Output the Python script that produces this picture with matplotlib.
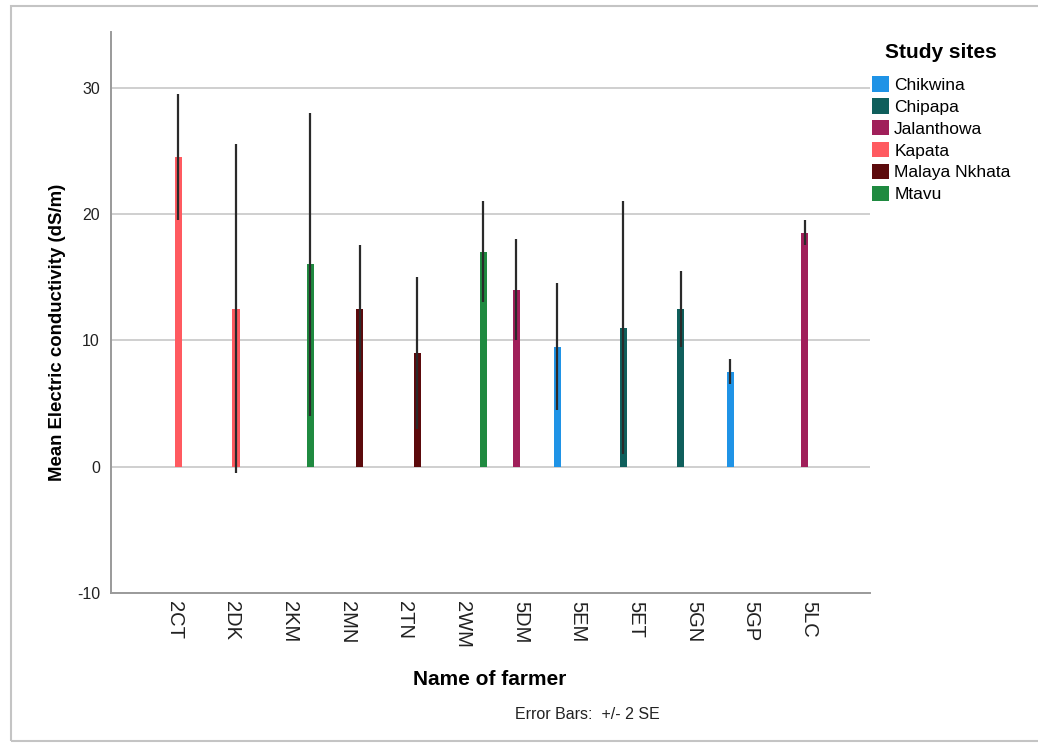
import matplotlib.pyplot as plt
import matplotlib.transforms as mtransforms
from matplotlib.patches import Patch, Rectangle

plt.rcParams['font.family'] = ['Liberation Sans', 'DejaVu Sans']
plt.rcParams['axes.unicode_minus'] = False

# data
farmers = ['2CT', '2DK', '2KM', '2MN', '2TN', '2WM',
           '5DM', '5EM', '5ET', '5GN', '5GP', '5LC']
farmer_site = ['Kapata', 'Kapata', 'Mtavu', 'Malaya Nkhata', 'Malaya Nkhata', 'Mtavu',
               'Jalanthowa', 'Chikwina', 'Chipapa', 'Chipapa', 'Chikwina', 'Jalanthowa']
mean_ec = [24.5, 12.5, 16.0, 12.5, 9.0, 17.0, 14.0, 9.5, 11.0, 12.5, 7.5, 18.5]
err_2se = [5.0, 13.0, 12.0, 5.0, 6.0, 4.0, 4.0, 5.0, 10.0, 3.0, 1.0, 1.0]

sites = ['Chikwina', 'Chipapa', 'Jalanthowa', 'Kapata', 'Malaya Nkhata', 'Mtavu']
site_colors = ['#1f93e6', '#0f5f5c', '#a01f5a', '#ff5a60', '#5c0a0c', '#1f8a40']

fig = plt.figure(figsize=(10.38, 7.43), dpi=100)
ax = fig.add_axes([0.107, 0.202, 0.731, 0.755])

# outer frame like the SPSS output
fig.patches.append(Rectangle((0.0108, 0.003), 1.2, 0.989, transform=fig.transFigure,
                             fill=False, edgecolor='#c4c4c4', linewidth=1.5, zorder=0))

step = 0.1445
width = 0.125
for i, (site, m, e) in enumerate(zip(farmer_site, mean_ec, err_2se)):
    k = sites.index(site)
    x = i + (k - 2.5) * step
    ax.bar(x, m, width=width, color=site_colors[k], zorder=2)
    ax.errorbar(x, m, yerr=e, fmt='none', ecolor='#2a2a2a', elinewidth=1.6,
                capsize=0, zorder=3)

ax.set_xlim(-1.095, 12.06)
ax.set_ylim(-10, 34.4)
ax.set_yticks([-10, 0, 10, 20, 30])
ax.set_xticks(range(len(farmers)))
ax.set_xticklabels(farmers, rotation=-90, fontsize=14.5, color='#222222')
for lab in ax.get_xticklabels():
    lab.set_transform(lab.get_transform() +
                      mtransforms.ScaledTranslation(-4 / 100, 0, fig.dpi_scale_trans))
ax.tick_params(axis='y', labelsize=11.5, length=0, pad=8, colors='#222222')
ax.tick_params(axis='x', length=0, pad=6)

ax.grid(axis='y', color='#cfcfcf', linewidth=1.4, zorder=0)
ax.set_axisbelow(True)
for s in ['top', 'right']:
    ax.spines[s].set_visible(False)
for s in ['left', 'bottom']:
    ax.spines[s].set_color('#9a9a9a')
    ax.spines[s].set_linewidth(1.4)

ax.set_ylabel('Mean Electric conductivity (dS/m)', fontsize=13.4, fontweight='bold')
ax.yaxis.set_label_coords(-0.059, 0.465)
fig.text(0.472, 0.085, 'Name of farmer', fontsize=15, fontweight='bold',
         ha='center', va='center')
fig.text(0.566, 0.038, 'Error Bars:  +/- 2 SE', fontsize=11.5, ha='center', va='center',
         color='#222222')

fig.text(941 / 1038, 1 - 52 / 743, 'Study sites', fontsize=15, fontweight='bold',
         ha='center', va='center')
handles = [Patch(facecolor=c, edgecolor='none') for c in site_colors]
leg = fig.legend(handles, sites, loc='upper left', bbox_to_anchor=(0.833, 0.907),
                 frameon=False, fontsize=12.5,
                 handlelength=1.0, handleheight=1.0, handletextpad=0.3,
                 labelspacing=0.3, borderaxespad=0)

fig.savefig('out.png', dpi=100)
